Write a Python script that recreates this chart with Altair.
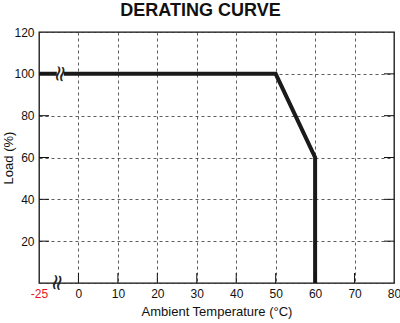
import altair as alt
import pandas as pd

# data
temps = [-10, 50, 60, 60]
loads = [100, 100, 60, 0]
x_ticks = [-10, 0, 10, 20, 30, 40, 50, 60, 70, 80]
y_ticks = [0, 20, 40, 60, 80, 100, 120]
inner_x = [0, 10, 20, 30, 40, 50, 60, 70]
inner_y = [20, 40, 60, 80, 100]
break_x = [-4.6, -4.6]
break_y = [100, 0]

FONT = "Liberation Sans"

line_df = pd.DataFrame({"t": temps, "load": loads})
xs = alt.Scale(domain=[-10, 80], nice=False)
ys = alt.Scale(domain=[0, 120], nice=False)

x_axis = alt.Axis(
    values=x_ticks,
    labelExpr="datum.value == -10 ? '-25' : datum.label",
    labelColor={"condition": {"test": "datum.value == -10", "value": "#e8141c"}, "value": "#111"},
    title="Ambient Temperature (°C)",
    domain=False, ticks=False, grid=True, labelFlush=False,
    gridDash=[3, 3], gridColor="#333", gridWidth=0.8,
    labelFont=FONT, labelFontSize=12, labelPadding=5,
    titleFont=FONT, titleFontSize=13, titleFontWeight="normal", titlePadding=6, titleColor="#111",
)
y_axis = alt.Axis(
    values=y_ticks,
    labelExpr="datum.value == 0 ? '' : datum.label",
    title="Load (%)",
    domain=False, ticks=False, grid=True, labelFlush=False,
    gridDash=[3, 3], gridColor="#333", gridWidth=0.8,
    labelFont=FONT, labelFontSize=12, labelPadding=5, labelColor="#111",
    titleFont=FONT, titleFontSize=13, titleFontWeight="normal", titlePadding=-2, titleColor="#111",
)

line = alt.Chart(line_df).transform_window(idx="row_number()").mark_line(
    color="#1a1a1a", strokeWidth=4, strokeJoin="miter"
).encode(
    x=alt.X("t:Q", scale=xs, axis=x_axis),
    y=alt.Y("load:Q", scale=ys, axis=y_axis),
    order=alt.Order("idx:Q"),
)

brk_df = pd.DataFrame({"t": break_x, "load": break_y})
gap = alt.Chart(pd.DataFrame({"t": [break_x[0]], "load": [break_y[0]]})).mark_rect(
    color="white", width=7, height=10
).encode(x=alt.X("t:Q", scale=xs, axis=x_axis), y=alt.Y("load:Q", scale=ys, axis=y_axis))

brk_line = alt.Chart(brk_df.iloc[[0]]).mark_text(
    text="≈", fontSize=22, angle=100, color="#222", font="DejaVu Sans"
).encode(x=alt.X("t:Q", scale=xs, axis=x_axis), y=alt.Y("load:Q", scale=ys, axis=y_axis))
brk_axis = alt.Chart(brk_df.iloc[[1]]).mark_text(
    text="≈", fontSize=22, angle=100, color="#222", font="DejaVu Sans", dy=3
).encode(x=alt.X("t:Q", scale=xs, axis=x_axis), y=alt.Y("load:Q", scale=ys, axis=y_axis))

bt = alt.Chart(pd.DataFrame({"t": inner_x})).mark_rule(color="#111", strokeWidth=1).encode(
    x=alt.X("t:Q", scale=xs, axis=x_axis), y=alt.value(251), y2=alt.value(241)
)
lt = alt.Chart(pd.DataFrame({"load": inner_y})).mark_rule(color="#111", strokeWidth=1).encode(
    y=alt.Y("load:Q", scale=ys, axis=y_axis), x=alt.value(0), x2=alt.value(10)
)
rt = alt.Chart(pd.DataFrame({"load": inner_y})).mark_rule(color="#111", strokeWidth=1).encode(
    y=alt.Y("load:Q", scale=ys, axis=y_axis), x=alt.value(345), x2=alt.value(355)
)

chart = alt.layer(line, bt, lt, rt, gap, brk_line, brk_axis).properties(
    width=355, height=251,
    title=alt.TitleParams("DERATING CURVE", font=FONT, fontSize=18, fontWeight="bold",
                          color="#111", anchor="middle", dx=-16, offset=6),
    autosize=alt.AutoSizeParams(type="none"),
    padding={"left": 39, "top": 32, "right": 6, "bottom": 40},
    background="white",
).configure_view(stroke="#111", strokeWidth=1.3)

chart.save("out.html", embed_options={"renderer": "svg", "actions": False})
